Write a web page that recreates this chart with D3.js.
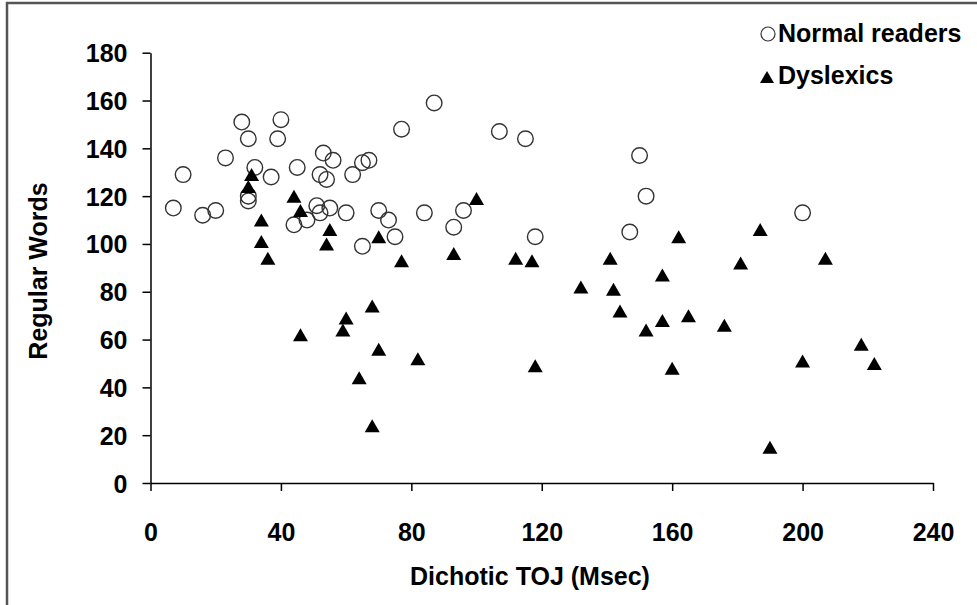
<!DOCTYPE html>
<html>
<head>
<meta charset="utf-8">
<script src="https://cdn.jsdelivr.net/npm/d3@7"></script>
<style>
  body { margin: 0; background: #fff; }
  svg text { font-family: "Liberation Sans", Arial, sans-serif; font-weight: bold; fill: #000; }
</style>
</head>
<body>
<svg id="chart" width="977" height="605"></svg>
<script>
// Dichotic TOJ (Msec) vs Regular Words
const normalReaders = [
  [7, 115], [10, 129], [16, 112], [20, 114], [23, 136], [28, 151], [30, 144], [32, 132],
  [30, 120], [30, 118], [37, 128], [40, 152], [39, 144], [45, 132], [44, 108], [48, 110],
  [51, 116], [52, 129], [53, 138], [54, 127], [56, 135], [52, 113], [55, 115], [60, 113],
  [62, 129], [65, 134], [67, 135], [65, 99], [70, 114], [73, 110], [75, 103], [77, 148],
  [84, 113], [87, 159], [93, 107], [96, 114], [107, 147], [115, 144], [118, 103],
  [147, 105], [150, 137], [152, 120], [200, 113]
];
const dyslexics = [
  [31, 129], [30, 124], [44, 120], [46, 114], [34, 110], [34, 101], [36, 94], [54, 100],
  [55, 106], [70, 103], [77, 93], [68, 74], [60, 69], [59, 64], [46, 62], [70, 56],
  [82, 52], [64, 44], [68, 24], [100, 119], [93, 96], [112, 94], [117, 93], [141, 94],
  [162, 103], [157, 87], [187, 106], [181, 92], [132, 82], [142, 81], [144, 72], [165, 70],
  [157, 68], [152, 64], [176, 66], [118, 49], [160, 48], [200, 51], [190, 15], [207, 94],
  [218, 58], [222, 50]
];
const xTicks = [0, 40, 80, 120, 160, 200, 240];
const yTicks = [0, 20, 40, 60, 80, 100, 120, 140, 160, 180];
const legendLabels = ["Normal readers", "Dyslexics"];

const svg = d3.select("#chart");

// outer frame (top and left edges only are visible)
svg.append("path")
  .attr("d", "M7,605 V3 H977")
  .attr("fill", "none")
  .attr("stroke", "#555")
  .attr("stroke-width", 2.5);

const x = d3.scaleLinear().domain([0, 240]).range([150.5, 933]);
const y = d3.scaleLinear().domain([0, 180]).range([483, 52.7]);

// y axis
const yAxis = svg.append("g")
  .attr("transform", "translate(150.5,0)")
  .call(d3.axisLeft(y).tickValues(yTicks).tickSize(8).tickSizeOuter(0).tickPadding(15));
yAxis.selectAll("text").attr("font-size", 25).attr("dy", "0.36em");

// x axis
const xAxis = svg.append("g")
  .attr("transform", "translate(0,483)")
  .call(d3.axisBottom(x).tickValues(xTicks).tickSize(8).tickSizeOuter(0).tickPadding(0));
xAxis.selectAll("text").attr("font-size", 25).attr("dy", "2.0em");

svg.selectAll(".domain, .tick line")
  .attr("stroke", "#000")
  .attr("stroke-width", 1.5);
svg.selectAll(".tick text").style("font-family", "'Liberation Sans', Arial, sans-serif").style("font-weight", "bold");

// axis titles
svg.append("text")
  .attr("x", 530)
  .attr("y", 585)
  .attr("text-anchor", "middle")
  .attr("font-size", 25)
  .text("Dichotic TOJ (Msec)");

svg.append("text")
  .attr("transform", "translate(47,271) rotate(-90)")
  .attr("text-anchor", "middle")
  .attr("font-size", 25)
  .text("Regular Words");

// triangle path with its box centred on (0,0)
const tri = (w, h) => `M0,${-h / 2} L${w / 2},${h / 2} L${-w / 2},${h / 2} Z`;

// normal readers: open circles
svg.append("g")
  .selectAll("circle")
  .data(normalReaders)
  .join("circle")
  .attr("cx", d => x(d[0]))
  .attr("cy", d => y(d[1]))
  .attr("r", 7.8)
  .attr("fill", "none")
  .attr("stroke", "#333")
  .attr("stroke-width", 1.4);

// dyslexics: filled triangles
svg.append("g")
  .selectAll("path")
  .data(dyslexics)
  .join("path")
  .attr("transform", d => `translate(${x(d[0])},${y(d[1])})`)
  .attr("d", tri(15, 13))
  .attr("fill", "#000");

// legend
svg.append("circle")
  .attr("cx", 768).attr("cy", 34).attr("r", 7)
  .attr("fill", "none").attr("stroke", "#333").attr("stroke-width", 1.2);
svg.append("text").attr("x", 778).attr("y", 42).attr("font-size", 25).text(legendLabels[0]);

svg.append("path")
  .attr("transform", "translate(767,77)")
  .attr("d", tri(14, 12))
  .attr("fill", "#000");
svg.append("text").attr("x", 778).attr("y", 84).attr("font-size", 25).text(legendLabels[1]);
</script>
</body>
</html>
